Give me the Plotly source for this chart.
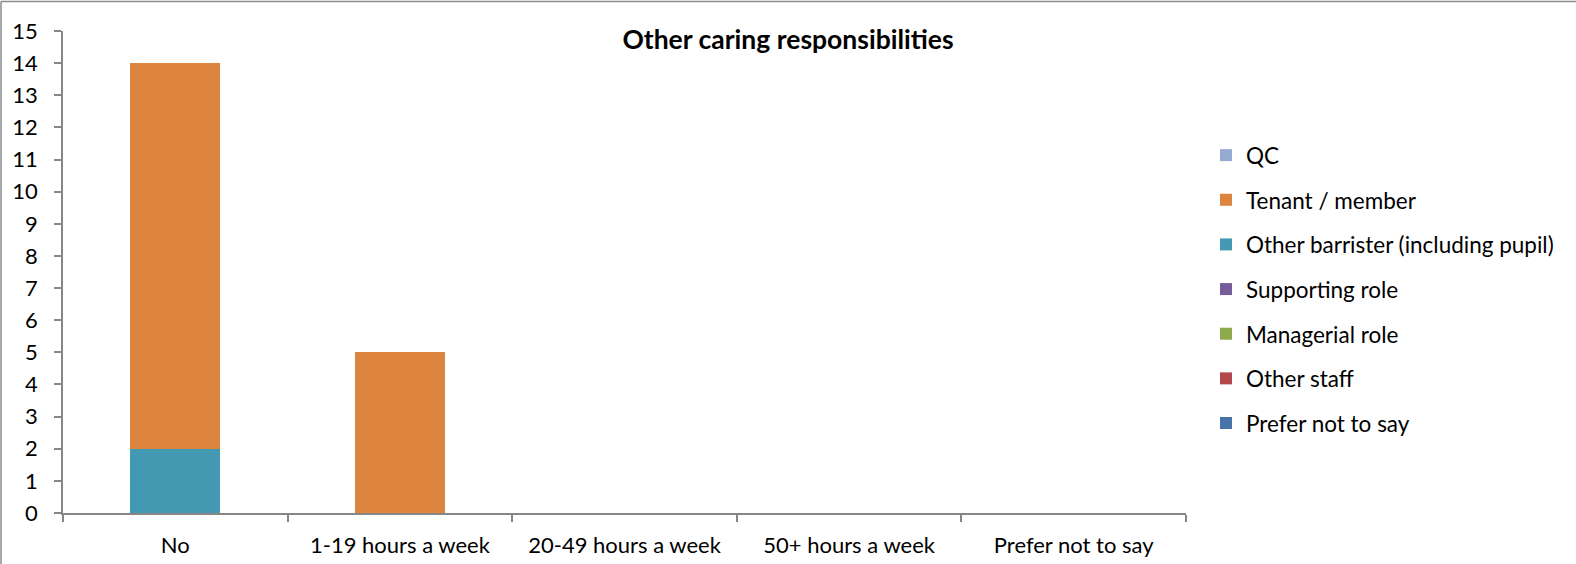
import plotly.graph_objects as go

categories = ["No", "1-19 hours a week", "20-49 hours a week", "50+ hours a week", "Prefer not to say"]

# series listed bottom-of-stack first
prefer_not_to_say = [0, 0, 0, 0, 0]
other_staff = [0, 0, 0, 0, 0]
managerial_role = [0, 0, 0, 0, 0]
supporting_role = [0, 0, 0, 0, 0]
other_barrister = [2, 0, 0, 0, 0]
tenant_member = [12, 5, 0, 0, 0]
qc = [0, 0, 0, 0, 0]

series_names = ["Prefer not to say", "Other staff", "Managerial role", "Supporting role",
                "Other barrister (including pupil)", "Tenant / member", "QC"]
series_values = [prefer_not_to_say, other_staff, managerial_role, supporting_role,
                 other_barrister, tenant_member, qc]
series_colors = ["#4674A9", "#B4474A", "#8DAB4E", "#775C9A", "#4299B1", "#DD843F", "#95AAD2"]

y_ticks = list(range(0, 16))

FONT = "Lato"

fig = go.Figure()
n = len(series_names)
for i, (name, vals, col) in enumerate(zip(series_names, series_values, series_colors)):
    fig.add_trace(go.Bar(x=categories, y=vals, name=name, marker_color=col,
                         marker_line_width=0, legendgroup=name, legendrank=n - i))

W, H = 1576, 564
X0, X1, Y0, Y1 = 63, 1186, 31, 513
L, R, T, B = X0, W - X1, Y0, H - Y1
PW, PH = X1 - X0, Y1 - Y0

fig.update_layout(
    width=W, height=H,
    barmode="stack", bargap=0.6,
    plot_bgcolor="white", paper_bgcolor="white",
    margin=dict(l=L, r=R, t=T, b=B, autoexpand=False),
    font=dict(family=FONT, size=22, color="#000000"),
    title=dict(text="<b>Other caring responsibilities</b>", x=0.5, xanchor="center",
               y=1 - 40 / H, yanchor="middle", font=dict(family=FONT, size=26.5, color="#000000")),
    legend=dict(x=(1206 - X0) / PW, xanchor="left", y=1 - (134 - Y0) / PH, yanchor="top",
                traceorder="grouped", tracegroupgap=12.4,
                font=dict(family=FONT, size=22.5), bgcolor="rgba(0,0,0,0)"),
    xaxis=dict(showline=True, linecolor="#868686", linewidth=1.5, ticks="outside", tickson="boundaries",
               ticklen=7, tickcolor="#868686", tickwidth=1.5, showgrid=False, ticklabelstandoff=12,
               automargin=False),
    yaxis=dict(range=[0, 15], tickvals=y_ticks, showline=True, linecolor="#868686", linewidth=1.5,
               ticks="outside", ticklen=7, tickcolor="#868686", tickwidth=1.5, showgrid=False,
               zeroline=False, ticklabelstandoff=12, automargin=False),
    shapes=[
        dict(type="line", xref="paper", yref="paper",
             x0=(1 - X0) / PW, x1=(W - X0) / PW,
             y0=1 + (Y0 - 1.5) / PH, y1=1 + (Y0 - 1.5) / PH,
             line=dict(color="#8C8C8C", width=1.5)),
        dict(type="line", xref="paper", yref="paper",
             x0=(1 - X0) / PW, x1=(1 - X0) / PW,
             y0=-(H - Y1) / PH, y1=1 + (Y0 - 1.5) / PH,
             line=dict(color="#8C8C8C", width=1.5)),
    ],
)

fig.write_html("out.html", config={"displayModeBar": False},
               post_script="document.body.style.margin='0';document.body.style.overflow='hidden';")
